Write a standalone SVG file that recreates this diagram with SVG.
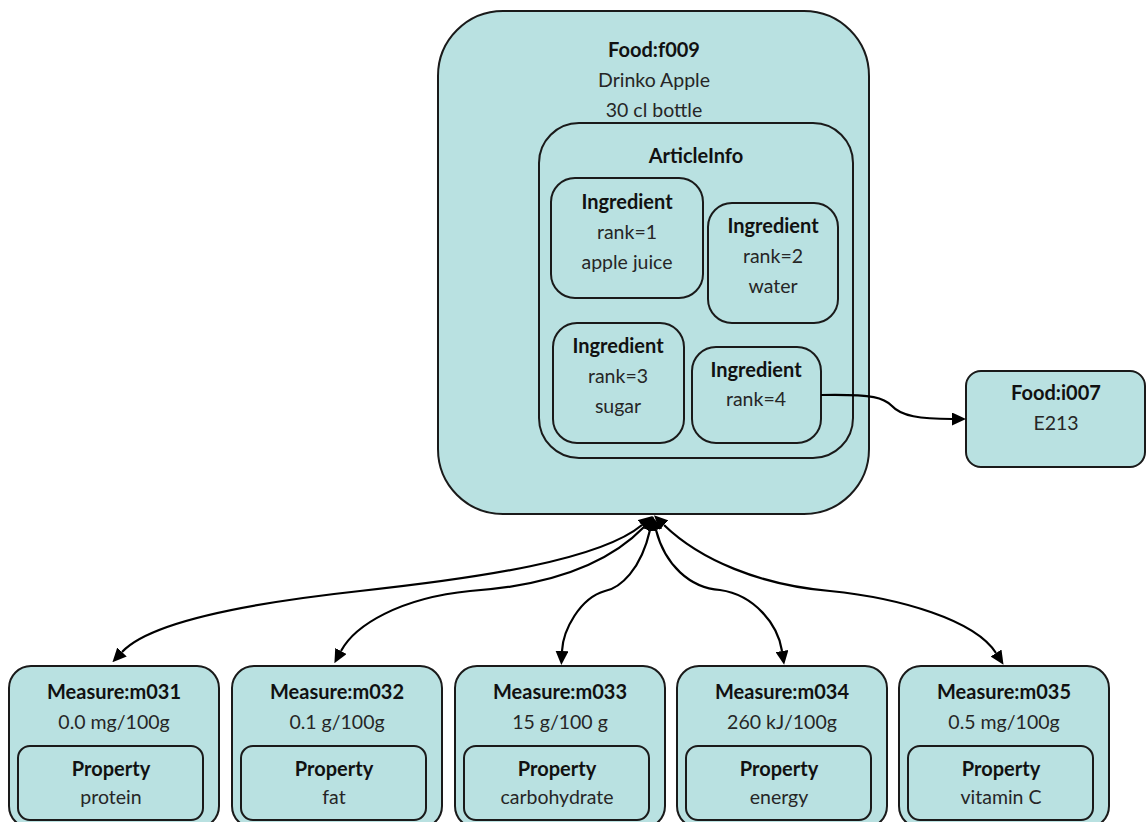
<svg xmlns="http://www.w3.org/2000/svg" width="1148" height="822" viewBox="0 0 1148 822">
  <style>
    .box { fill: #b9e1e1; stroke: #1a1a1a; stroke-width: 2; }
    .inner { fill: #b9e1e1; stroke: #1a1a1a; stroke-width: 2; }
    .edge { fill: none; stroke: #000; stroke-width: 2.2; }
    text { font-family: Lato, "Open Sans", "DejaVu Sans", sans-serif; font-size: 19.5px; text-anchor: middle; fill: #262626; }
    .b { font-weight: bold; font-size: 20px; fill: #111; }
  </style>
  <defs>
    <marker id="arrow" markerUnits="userSpaceOnUse" viewBox="0 0 14 13" markerWidth="14" markerHeight="13" refX="0" refY="6.5" orient="auto-start-reverse">
      <path d="M0,0 L14,6.5 L0,13 z" fill="#000"/>
    </marker>
  </defs>

  <rect width="1148" height="822" fill="#fff"/>

  <!-- Food f009 with its nested ArticleInfo and ingredients -->
  <g id="food-f009">
    <rect class="box" x="438" y="11" width="431" height="503" rx="65" ry="65"/>
    <text class="b" x="654" y="57">Food:f009</text>
    <text x="654" y="87">Drinko Apple</text>
    <text x="654" y="117">30 cl bottle</text>
  </g>
  <g id="article-info">
    <rect class="inner" x="539" y="123" width="314" height="335" rx="40" ry="40"/>
    <text class="b" x="696" y="163">ArticleInfo</text>
  </g>
  <g id="ingredient-1">
    <rect class="inner" x="551" y="178" width="152" height="120" rx="24" ry="24"/>
    <text class="b" x="627" y="209">Ingredient</text>
    <text x="627" y="239">rank=1</text>
    <text x="627" y="269">apple juice</text>
  </g>
  <g id="ingredient-2">
    <rect class="inner" x="708" y="203" width="130" height="120" rx="24" ry="24"/>
    <text class="b" x="773" y="233">Ingredient</text>
    <text x="773" y="263">rank=2</text>
    <text x="773" y="293">water</text>
  </g>
  <g id="ingredient-3">
    <rect class="inner" x="553" y="323" width="131" height="120" rx="24" ry="24"/>
    <text class="b" x="618" y="353">Ingredient</text>
    <text x="618" y="383">rank=3</text>
    <text x="618" y="413">sugar</text>
  </g>
  <g id="ingredient-4">
    <rect class="inner" x="692" y="347" width="129" height="96" rx="24" ry="24"/>
    <text class="b" x="756" y="377">Ingredient</text>
    <text x="756" y="406">rank=4</text>
  </g>

  <!-- Food i007 -->
  <g id="food-i007">
    <rect class="box" x="966" y="371" width="179" height="96" rx="15" ry="15"/>
    <text class="b" x="1056" y="400">Food:i007</text>
    <text x="1056" y="430">E213</text>
  </g>

  <!-- Measures, each holding a Property -->
  <g id="measure-m031">
    <rect class="box" x="9" y="666" width="210" height="162" rx="22" ry="22"/>
    <text class="b" x="114" y="699">Measure:m031</text>
    <text x="114" y="729">0.0 mg/100g</text>
    <rect class="inner" x="18" y="746" width="185" height="74" rx="12" ry="12"/>
    <text class="b" x="111" y="776">Property</text>
    <text x="111" y="804">protein</text>
  </g>
  <g id="measure-m032">
    <rect class="box" x="232" y="666" width="210" height="162" rx="22" ry="22"/>
    <text class="b" x="337" y="699">Measure:m032</text>
    <text x="337" y="729">0.1 g/100g</text>
    <rect class="inner" x="241" y="746" width="185" height="74" rx="12" ry="12"/>
    <text class="b" x="334" y="776">Property</text>
    <text x="334" y="804">fat</text>
  </g>
  <g id="measure-m033">
    <rect class="box" x="455" y="666" width="210" height="162" rx="22" ry="22"/>
    <text class="b" x="560" y="699">Measure:m033</text>
    <text x="560" y="729">15 g/100 g</text>
    <rect class="inner" x="464" y="746" width="185" height="74" rx="12" ry="12"/>
    <text class="b" x="557" y="776">Property</text>
    <text x="557" y="804">carbohydrate</text>
  </g>
  <g id="measure-m034">
    <rect class="box" x="677" y="666" width="210" height="162" rx="22" ry="22"/>
    <text class="b" x="782" y="699">Measure:m034</text>
    <text x="782" y="729">260 kJ/100g</text>
    <rect class="inner" x="686" y="746" width="185" height="74" rx="12" ry="12"/>
    <text class="b" x="779" y="776">Property</text>
    <text x="779" y="804">energy</text>
  </g>
  <g id="measure-m035">
    <rect class="box" x="899" y="666" width="210" height="162" rx="22" ry="22"/>
    <text class="b" x="1004" y="699">Measure:m035</text>
    <text x="1004" y="729">0.5 mg/100g</text>
    <rect class="inner" x="908" y="746" width="185" height="74" rx="12" ry="12"/>
    <text class="b" x="1001" y="776">Property</text>
    <text x="1001" y="804">vitamin C</text>
  </g>

  <!-- Connectors -->
  <g id="connectors">
    <path class="edge" marker-end="url(#arrow)" d="M821,395 C875,394 884,398 892,406 C901,416 920,419 952,419"/>
    <path class="edge" marker-start="url(#arrow)" marker-end="url(#arrow)" d="M642,525 C600,560 480,578 360,591 C250,603 150,622 122,652"/>
    <path class="edge" marker-start="url(#arrow)" marker-end="url(#arrow)" d="M644,527 C612,560 560,585 470,591 C400,598 355,625 341,651"/>
    <path class="edge" marker-start="url(#arrow)" marker-end="url(#arrow)" d="M650,530 C641,570 620,588 605,591 C580,598 563,630 562,651"/>
    <path class="edge" marker-start="url(#arrow)" marker-end="url(#arrow)" d="M656,530 C665,565 690,588 720,590 C755,595 778,625 782,651"/>
    <path class="edge" marker-start="url(#arrow)" marker-end="url(#arrow)" d="M664,525 C700,560 760,585 830,591 C900,598 975,620 996,653"/>
  </g>
</svg>
